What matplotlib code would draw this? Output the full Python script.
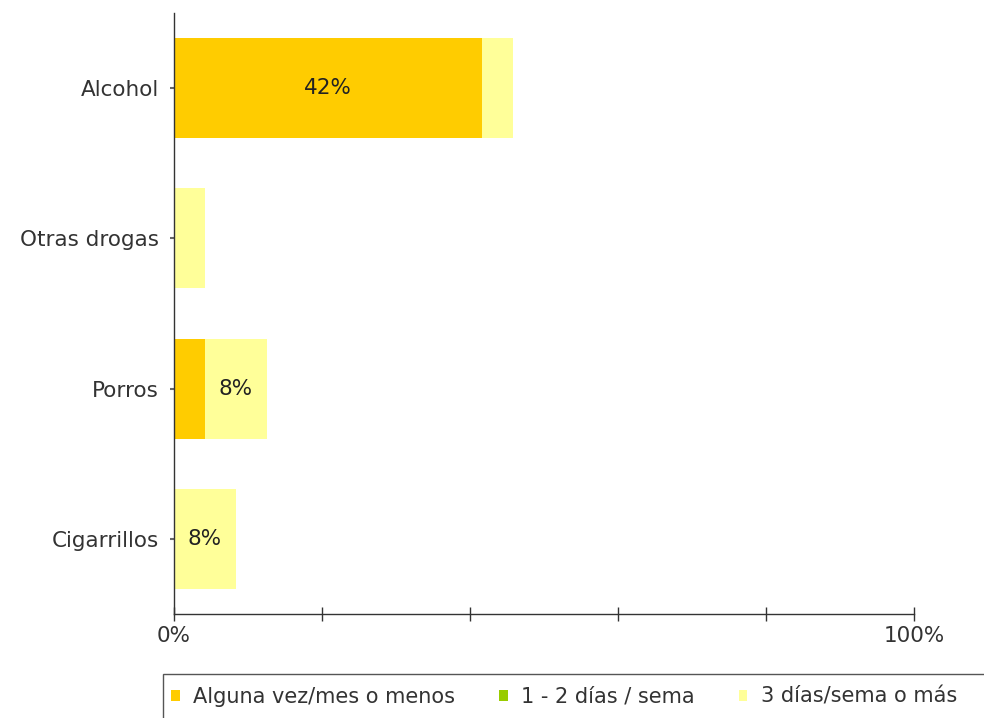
import numpy as np
import matplotlib
matplotlib.use("Agg")
import matplotlib.pyplot as plt
from matplotlib.patches import Rectangle

# categorías (de arriba abajo) y series apiladas, en %
categorias = ["Alcohol", "Otras drogas", "Porros", "Cigarrillos"]
series = ["Alguna vez/mes o menos", "1 - 2 días / sema", "3 días/sema o más"]
alguna_vez = [41.67, 0.0, 4.17, 0.0]
uno_dos = [0.0, 0.0, 0.0, 0.0]
tres_mas = [4.17, 4.17, 8.33, 8.33]
colores = ["#FFCC00", "#99CC00", "#FFFF99"]
x_ticks = [0, 20, 40, 60, 80, 100]
x_labels = ["0%", "", "", "", "", "100%"]

plt.rcParams["font.family"] = ["DejaVu Sans"]
texto = "#333333"
fs = 15.5

fig = plt.figure(figsize=(9.84, 7.18), dpi=100)
ax = fig.add_axes([174 / 984, 1 - 614 / 718, 740 / 984, 601 / 718])

y = np.arange(len(categorias))
izq = np.zeros(len(categorias))
for nombre, vals, col in zip(series, [alguna_vez, uno_dos, tres_mas], colores):
    vals = np.array(vals)
    ax.barh(y, vals, left=izq, height=2 / 3, color=col, label=nombre,
            linewidth=0)
    for yi, l, v in zip(y, izq, vals):
        if v >= 6:
            ax.text(l + v / 2, yi, f"{v:.0f}%", ha="center", va="center",
                    fontsize=fs, color="#222222")
    izq += vals

ax.set_xlim(0, 100)
ax.set_ylim(3.5, -0.5)
ax.set_yticks(y)
ax.set_yticklabels(categorias)
ax.set_xticks(x_ticks)
ax.set_xticklabels(x_labels)

for s in ["top", "right"]:
    ax.spines[s].set_visible(False)
for s in ["left", "bottom"]:
    ax.spines[s].set_color("#333333")
    ax.spines[s].set_linewidth(1.0)

ax.tick_params(axis="y", direction="out", length=3, width=1.5,
               color="#666666", pad=8, labelsize=fs, labelcolor=texto)
ax.tick_params(axis="x", direction="inout", length=10, width=1.0,
               color="#333333", pad=4, labelsize=fs, labelcolor=texto)

# leyenda: marco abierto por abajo y a la derecha, como en el original
fig.patches.append(Rectangle((163 / 984, -0.05), 1.0, 0.05 + 1 - 674 / 718,
                             transform=fig.transFigure, fill=False,
                             edgecolor="#555555", linewidth=1.0))
leg = fig.legend(loc="center left", bbox_to_anchor=(171 / 984, 1 - 697 / 718),
                 ncol=3, frameon=False, fontsize=15,
                 handlelength=0.42, handleheight=0.42,
                 handletextpad=0.65, columnspacing=2.1, borderpad=0,
                 borderaxespad=0)
for t in leg.get_texts():
    t.set_color(texto)

fig.savefig("out.png", dpi=100)
